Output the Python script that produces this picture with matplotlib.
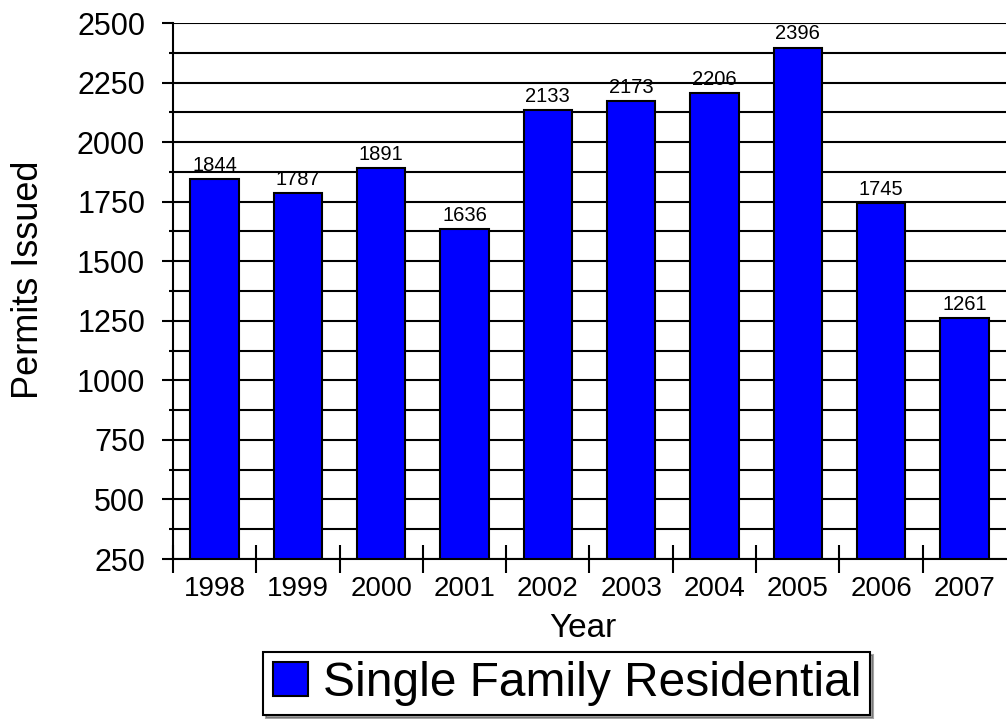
import matplotlib
matplotlib.use("Agg")
import matplotlib.pyplot as plt
from matplotlib.ticker import MultipleLocator, FixedLocator

plt.rcParams['font.family'] = ['Liberation Sans', 'DejaVu Sans']

years = ['1998', '1999', '2000', '2001', '2002', '2003', '2004', '2005', '2006', '2007']
permits = [1844, 1787, 1891, 1636, 2133, 2173, 2206, 2396, 1745, 1261]

fig = plt.figure(figsize=(10.07, 7.19), dpi=100)
ax = fig.add_axes([0.1718, 0.2225, 0.8272, 0.7455])

xs = list(range(len(years)))
bars = ax.bar(xs, [p - 250 for p in permits], bottom=250, width=0.58,
              color='#0000FF', edgecolor='black', linewidth=1.5, zorder=3,
              label='Single Family Residential')

for x, p in zip(xs, permits):
    ax.text(x, p + 18, str(p), ha='center', va='bottom', fontsize=14.5, zorder=4)

ax.set_ylim(250, 2500)
ax.set_xlim(-0.5, len(years) - 0.5)

ax.yaxis.set_major_locator(MultipleLocator(250))
ax.yaxis.set_minor_locator(MultipleLocator(125))
ax.grid(axis='y', which='both', color='black', linewidth=1.5, zorder=1)
ax.tick_params(axis='y', which='major', length=8, width=1.5, labelsize=22, pad=12)
ax.tick_params(axis='y', which='minor', length=3, width=1.5)

ax.set_xticks(xs)
ax.set_xticklabels(years)
# separators between the years, last one would sit on the figure edge
ax.xaxis.set_minor_locator(FixedLocator([i - 0.5 for i in range(len(years))]))
ax.tick_params(axis='x', which='major', length=0, labelsize=20, pad=12)
ax.tick_params(axis='x', which='minor', direction='inout', length=20, width=1.5)

for side in ['top', 'right']:
    ax.spines[side].set_visible(False)
for side in ['left', 'bottom']:
    ax.spines[side].set_linewidth(1.5)

ax.set_xlabel('Year', fontsize=24)
ax.xaxis.set_label_coords(0.492, -0.1, transform=ax.transAxes)
ax.xaxis.label.set_verticalalignment('top')
ax.set_ylabel('Permits Issued', fontsize=26)
ax.yaxis.set_label_coords(-0.153, 0.52)

# legend: position it by its lower centre
fig.legend(handles=[bars], loc='lower center', bbox_to_anchor=(0.563, 0.0056),
           fontsize=34.5, frameon=True, fancybox=False, shadow=True,
           handlelength=0.75, handleheight=0.71, handletextpad=0.3,
           borderpad=0.19, borderaxespad=0, edgecolor='black')
fig.legends[0].get_frame().set_linewidth(1.5)

fig.savefig('out.png', dpi=100)
